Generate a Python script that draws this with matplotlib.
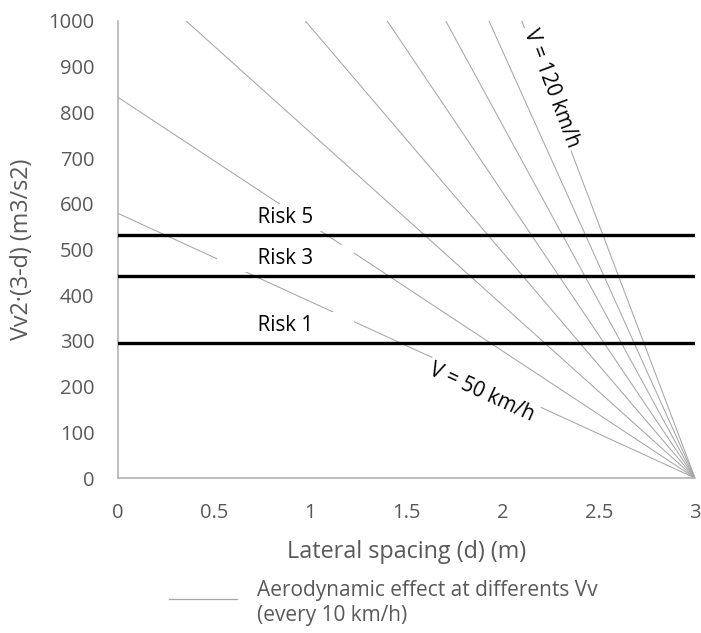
import numpy as np
import matplotlib
matplotlib.use("Agg")
import matplotlib.pyplot as plt
from matplotlib.lines import Line2D

# ---- data ----
speeds_kmh = [50, 60, 70, 80, 90, 100, 110, 120]
intercepts_d0 = [579, 833, 1134, 1481, 1875, 2315, 2801, 3333]  # value at d = 0, line reaches 0 at d = 3
d_start = 0.0
d_end = 3.0
risk_names = ["Risk 5", "Risk 3", "Risk 1"]
risk_values = [531, 441, 295]
x_ticks = [0, 0.5, 1, 1.5, 2, 2.5, 3]
x_tick_labels = ["0", "0.5", "1", "1.5", "2", "2.5", "3"]
y_ticks = list(range(0, 1001, 100))
legend_label = "Aerodynamic effect at differents Vv\n(every 10 km/h)"

plt.rcParams['font.family'] = ['Open Sans', 'DejaVu Sans']

W, H = 701, 633
fig = plt.figure(figsize=(W/100, H/100), dpi=100)
ax = fig.add_axes([118/W, 1-478/H, (695-118)/W, (478-21)/H])
ax.set_xlim(0, 3)
ax.set_ylim(0, 1000)

gray_line = '#a6a6a6'
for v, y0 in zip(speeds_kmh, intercepts_d0):
    ax.plot([d_start, d_end], [y0, 0], color=gray_line, lw=0.75, zorder=2)

for name, val in zip(risk_names, risk_values):
    ax.axhline(val, color='black', lw=2.4, zorder=3)
    ax.annotate("       " + name + "       ", xy=(0.87, val), xytext=(0, 13),
                textcoords='offset points', ha='center', va='center',
                fontsize=14.8, color='black', zorder=2.5,
                bbox=dict(boxstyle='square,pad=0.15', fc='white', ec='none'))

def line_angle(y0):
    p = ax.transData.transform([[0, y0], [3, 0]])
    return np.degrees(np.arctan2(p[1, 1] - p[0, 1], p[1, 0] - p[0, 0]))

i50 = speeds_kmh.index(50)
i120 = speeds_kmh.index(120)
ax.text(1.89, 186, "V = 50 km/h", rotation=line_angle(intercepts_d0[i50]),
        rotation_mode='anchor', ha='center', va='center', fontsize=14.8, color='black',
        zorder=4, bbox=dict(boxstyle='square,pad=0.15', fc='white', ec='none'))
ax.text(2.25, 853, "V = 120 km/h", rotation=line_angle(intercepts_d0[i120]),
        rotation_mode='anchor', ha='center', va='center', fontsize=14.8, color='black',
        zorder=4, bbox=dict(boxstyle='square,pad=0.15', fc='white', ec='none'))

for s in ['top', 'right']:
    ax.spines[s].set_visible(False)
for s in ['left', 'bottom']:
    ax.spines[s].set_color('#b3b3b3')
    ax.spines[s].set_linewidth(1.2)

ax.set_xticks(x_ticks)
ax.set_xticklabels(x_tick_labels)
ax.set_yticks(y_ticks)
ax.tick_params(length=0, labelsize=14.5, colors='#595959')
ax.tick_params(axis='x', pad=18)
ax.tick_params(axis='y', pad=17)

ax.set_xlabel("Lateral spacing (d) (m)", fontsize=16.8, color='#595959', labelpad=12)
ax.set_ylabel("Vv2·(3-d) (m3/s2)", fontsize=16.8, color='#595959', labelpad=10)

# legend (drawn manually in figure pixels)
fig.add_artist(Line2D([169/W, 237/W], [1-599/H, 1-599/H], color=gray_line, lw=0.9,
                      transform=fig.transFigure))
fig.text(257/W, 1-603/H, legend_label, ha='left', va='center', fontsize=15,
         color='#595959', linespacing=1.3)

fig.savefig("out.png", dpi=100)
